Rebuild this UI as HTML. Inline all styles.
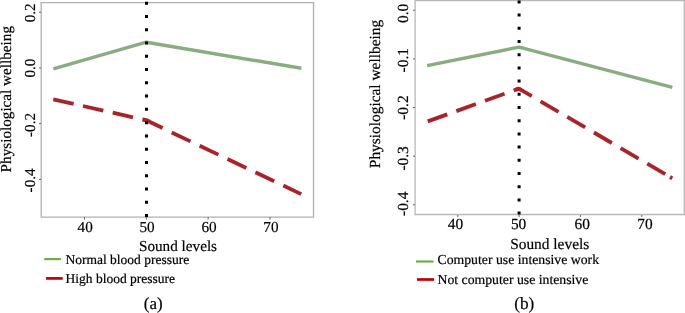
<!DOCTYPE html>
<html><head><meta charset="utf-8">
<style>
html,body{margin:0;padding:0;background:#fff;width:685px;height:313px;overflow:hidden}
svg{display:block;will-change:transform}
text{text-rendering:geometricPrecision;font-family:"Liberation Serif",serif;fill:#000;stroke:#000;stroke-width:0.2px}
.axL{font-size:15.2px} .axR{font-size:15.4px}
.lgL{font-size:13.5px} .lgR{font-size:13.75px}
.capL{font-size:17.0px} .capR{font-size:17.2px}
</style></head><body>
<svg width="685" height="313" viewBox="0 0 685 313">
<!-- Panel (a) -->
<path d="M41.2,2.6 H313.5 V217.1 H41.2 Z" fill="none" stroke="#b0b0b0" stroke-width="1.3"/>
<g stroke="#666" stroke-width="1">
<line x1="39" y1="12.2" x2="41" y2="12.2"/><line x1="39" y1="67.9" x2="41" y2="67.9"/>
<line x1="39" y1="123.6" x2="41" y2="123.6"/><line x1="39" y1="179.4" x2="41" y2="179.4"/>
<line x1="84.5" y1="217" x2="84.5" y2="219.6"/><line x1="146.3" y1="217" x2="146.3" y2="219.6"/>
<line x1="208.1" y1="217" x2="208.1" y2="219.6"/><line x1="270" y1="217" x2="270" y2="219.6"/>
</g>
<g class="axL" text-anchor="middle">
<text x="85.2" y="232.3">40</text><text x="147" y="232.3">50</text><text x="209" y="232.3">60</text><text x="270.9" y="232.3">70</text>
<text transform="translate(35.3,12.8) rotate(-90)">0.2</text>
<text transform="translate(35.3,68.1) rotate(-90)">0.0</text>
<text transform="translate(35.3,125.0) rotate(-90)">-0.2</text>
<text transform="translate(35.3,180.4) rotate(-90)">-0.4</text>
<text transform="translate(10.8,99.2) rotate(-90)">Physiological wellbeing</text>
<text x="178" y="250.8">Sound levels</text>
</g>
<polyline points="53.3,68.8 146.3,42.2 301.4,68.3" fill="none" stroke="#87ad80" stroke-width="3.4" stroke-linejoin="round"/>
<line x1="53.3" y1="99.3" x2="146.3" y2="120.3" stroke="#aa2328" stroke-width="3.8" stroke-dasharray="20.8 9.65" stroke-dashoffset="0"/><line x1="146.3" y1="120.3" x2="301.2" y2="194.1" stroke="#aa2328" stroke-width="3.8" stroke-dasharray="20.8 10.1" stroke-dashoffset="2.74"/><polyline points="143.37,119.64 146.3,120.3 149.01,121.59" fill="none" stroke="#aa2328" stroke-width="3.8" stroke-linejoin="round"/>
<line x1="146.5" y1="0" x2="146.5" y2="217" stroke="#000" stroke-width="3" stroke-dasharray="3 10.27" stroke-dashoffset="11.57"/>
<line x1="44.2" y1="259.1" x2="60.9" y2="259.1" stroke="#70ad47" stroke-width="2.2"/>
<line x1="46" y1="278.4" x2="62.7" y2="278.4" stroke="#c00000" stroke-width="2.7"/>
<g class="lgL"><text x="65.5" y="263.6">Normal blood pressure</text><text x="65.5" y="282.8">High blood pressure</text></g>
<text class="capL" x="153.2" y="308.6" text-anchor="middle">(a)</text>

<!-- Panel (b) -->
<path d="M415.1,0.5 H684.3 V214.5 H415.1 Z" fill="none" stroke="#b8b8b8" stroke-width="1.3"/>
<g stroke="#666" stroke-width="1">
<line x1="413" y1="10.2" x2="415" y2="10.2"/><line x1="413" y1="58.9" x2="415" y2="58.9"/>
<line x1="413" y1="107.5" x2="415" y2="107.5"/><line x1="413" y1="156.2" x2="415" y2="156.2"/>
<line x1="413" y1="204.8" x2="415" y2="204.8"/>
<line x1="457.8" y1="215" x2="457.8" y2="217"/><line x1="519.1" y1="215" x2="519.1" y2="217"/>
<line x1="580.4" y1="215" x2="580.4" y2="217"/><line x1="641.8" y1="215" x2="641.8" y2="217"/>
</g>
<g class="axR" text-anchor="middle">
<text x="455.5" y="229.2">40</text><text x="518.6" y="229.2">50</text><text x="582.2" y="229.2">60</text><text x="645" y="229.2">70</text>
<text transform="translate(408.2,13.4) rotate(-90)">0.0</text>
<text transform="translate(408.2,60.2) rotate(-90)">-0.1</text>
<text transform="translate(408.2,107.6) rotate(-90)">-0.2</text>
<text transform="translate(408.2,158.4) rotate(-90)">-0.3</text>
<text transform="translate(408.2,203.8) rotate(-90)">-0.4</text>
<text transform="translate(380.3,94) rotate(-90)">Physiological wellbeing</text>
<text x="549.7" y="249.2">Sound levels</text>
</g>
<polyline points="427.1,65.6 519.1,47.1 672.4,87.3" fill="none" stroke="#87ad80" stroke-width="3.4" stroke-linejoin="round"/>
<line x1="427.7" y1="121.4" x2="518.8" y2="88.6" stroke="#aa2328" stroke-width="3.8" stroke-dasharray="20.8 9.64" stroke-dashoffset="0"/><line x1="518.8" y1="88.6" x2="672.3" y2="178.3" stroke="#aa2328" stroke-width="3.8" stroke-dasharray="20.8 10.1" stroke-dashoffset="5.7"/><polyline points="515.98,89.62 518.8,88.6 521.39,90.11" fill="none" stroke="#aa2328" stroke-width="3.8" stroke-linejoin="round"/><line x1="670.06" y1="176.99" x2="672.3" y2="178.3" stroke="#aa2328" stroke-width="3.8"/>
<line x1="519.1" y1="0" x2="519.1" y2="215" stroke="#000" stroke-width="3" stroke-dasharray="3 10.2" stroke-dashoffset="12.8"/>
<line x1="416" y1="261.5" x2="433.5" y2="261.5" stroke="#70ad47" stroke-width="2.2"/>
<line x1="417" y1="279.5" x2="434.1" y2="279.5" stroke="#c00000" stroke-width="2.7"/>
<g class="lgR"><text x="437.5" y="264">Computer use intensive work</text><text x="437.5" y="284.1">Not computer use intensive</text></g>
<text class="capR" x="524.2" y="308.6" text-anchor="middle">(b)</text>
</svg>
</body></html>
